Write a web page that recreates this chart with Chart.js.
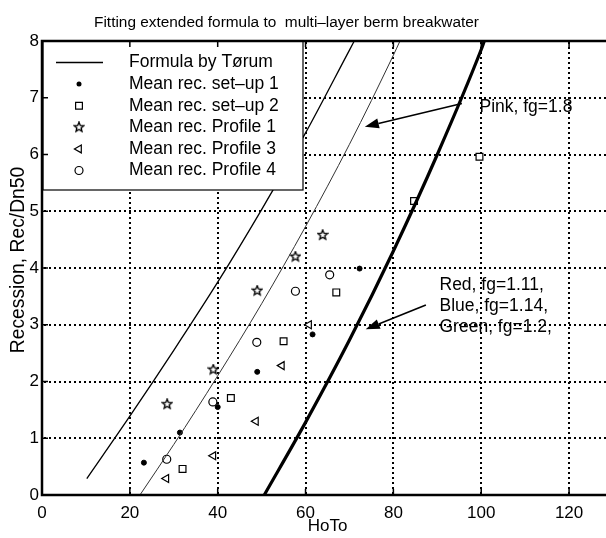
<!DOCTYPE html>
<html><head><meta charset="utf-8">
<script src="https://cdn.jsdelivr.net/npm/chart.js@4/dist/chart.umd.min.js"></script>
<style>
html,body{margin:0;padding:0;overflow:hidden;background:#fff;width:606px;height:538px}
canvas{display:block}
</style></head>
<body><canvas id="c" width="620" height="538"></canvas>
<script>
// ---------- data ----------
const xTickValues = [0, 20, 40, 60, 80, 100, 120];
const yTickValues = [0, 1, 2, 3, 4, 5, 6, 7, 8];

const torumX = [10.2, 20, 30, 40, 50, 60, 70, 71.1];
const torumY = [0.29, 1.39, 2.55, 3.75, 5.03, 6.38, 7.84, 8.0];

const pinkX = [22.3, 30, 40, 50, 60, 70, 80, 81.5];
const pinkY = [0, 0.89, 2.10, 3.37, 4.73, 6.18, 7.75, 8.0];

const rbgX = [50.6, 60, 70, 80, 90, 100, 100.7];
const rbgY = [0, 1.28, 2.73, 4.30, 6.0, 7.85, 8.0];

const setup1X = [23.2, 31.4, 40.0, 49.0, 61.6, 72.3];
const setup1Y = [0.57, 1.10, 1.55, 2.17, 2.83, 3.99];

const setup2X = [32.0, 43.0, 55.0, 67.0, 84.7, 99.6];
const setup2Y = [0.46, 1.71, 2.71, 3.57, 5.18, 5.96];

const profile1X = [28.5, 39.0, 49.0, 57.7, 63.9];
const profile1Y = [1.60, 2.21, 3.60, 4.20, 4.58];

const profile3X = [28.3, 39.0, 48.7, 54.6, 60.8];
const profile3Y = [0.29, 0.69, 1.30, 2.28, 3.00];

const profile4X = [28.4, 38.9, 48.9, 57.7, 65.5];
const profile4Y = [0.63, 1.64, 2.69, 3.59, 3.88];

const legendLabels = ['Formula by T\u00f8rum', 'Mean rec. set\u2013up 1', 'Mean rec. set\u2013up 2',
  'Mean rec. Profile 1', 'Mean rec. Profile 3', 'Mean rec. Profile 4'];
const titleText = 'Fitting extended formula to  multi\u2013layer berm breakwater';
const xTitle = 'HoTo';
const yTitle = 'Recession, Rec/Dn50';
const pinkNote = ['Pink, fg=1.8'];
const rbgNote = ['Red, fg=1.11,', 'Blue, fg=1.14,', 'Green, fg=1.2,'];

// annotation anchors (data coordinates)
const pinkArrow = {from: [95.6, 6.90], to: [73.5, 6.49], text: [99.6, 6.83]};
const rbgArrow = {from: [87.4, 3.35], to: [73.7, 2.92], text: [90.5, 3.70]};

// ---------- helpers ----------
const zip = (xs, ys) => xs.map((v, i) => ({x: v, y: ys[i]}));
const FONT = '"Liberation Sans", Arial, Helvetica, sans-serif';

function makeStar(size) {
  const c = document.createElement('canvas');
  c.width = c.height = size;
  const g = c.getContext('2d');
  const cx = size / 2, cy = size / 2, R = size / 2 - 1, r = R * 0.45;
  g.beginPath();
  for (let i = 0; i < 10; i++) {
    const a = -Math.PI / 2 + i * Math.PI / 5;
    const rr = i % 2 ? r : R;
    g.lineTo(cx + rr * Math.cos(a), cy + rr * Math.sin(a));
  }
  g.closePath();
  g.fillStyle = '#fff'; g.fill();
  g.lineWidth = 1.4; g.strokeStyle = '#000'; g.stroke();
  return c;
}
const starImg = makeStar(12);

function markerStyle(kind) {
  switch (kind) {
    case 'dot': return {pointStyle: 'circle', pointRadius: 2.5, pointBackgroundColor: '#000', pointBorderColor: '#000', pointBorderWidth: 1};
    case 'square': return {pointStyle: 'rect', pointRadius: 4.8, pointBackgroundColor: '#fff', pointBorderColor: '#000', pointBorderWidth: 1.2};
    case 'star': return {pointStyle: starImg, pointRadius: 6};
    case 'tri': return {pointStyle: 'triangle', pointRotation: -90, pointRadius: 4.6, pointBackgroundColor: '#fff', pointBorderColor: '#000', pointBorderWidth: 1.2};
    case 'circ': return {pointStyle: 'circle', pointRadius: 4, pointBackgroundColor: '#fff', pointBorderColor: '#000', pointBorderWidth: 1.2};
  }
}

function drawMarker(ctx, kind, px, py) {
  ctx.save();
  ctx.strokeStyle = '#000'; ctx.lineWidth = 1.2;
  if (kind === 'dot') {
    ctx.fillStyle = '#000'; ctx.beginPath(); ctx.arc(px, py, 2.5, 0, Math.PI * 2); ctx.fill();
  } else if (kind === 'square') {
    const s = 4.8 * Math.SQRT1_2;
    ctx.fillStyle = '#fff'; ctx.beginPath(); ctx.rect(px - s, py - s, 2 * s, 2 * s); ctx.fill(); ctx.stroke();
  } else if (kind === 'star') {
    ctx.drawImage(starImg, px - starImg.width / 2, py - starImg.height / 2);
  } else if (kind === 'tri') {
    const r = 4.6;
    ctx.fillStyle = '#fff'; ctx.beginPath();
    let a = -Math.PI / 2;
    for (let i = 0; i < 3; i++) { ctx.lineTo(px + Math.sin(a) * r, py - Math.cos(a) * r); a += 2 * Math.PI / 3; }
    ctx.closePath(); ctx.fill(); ctx.stroke();
  } else if (kind === 'circ') {
    ctx.fillStyle = '#fff'; ctx.beginPath(); ctx.arc(px, py, 4, 0, Math.PI * 2); ctx.fill(); ctx.stroke();
  }
  ctx.restore();
}

function drawArrow(ctx, x1, y1, x2, y2) {
  const ang = Math.atan2(y2 - y1, x2 - x1);
  const hl = 14, hw = 5;
  const bx = x2 - Math.cos(ang) * hl, by = y2 - Math.sin(ang) * hl;
  ctx.save();
  ctx.strokeStyle = '#000'; ctx.fillStyle = '#000'; ctx.lineWidth = 1.6;
  ctx.beginPath(); ctx.moveTo(x1, y1); ctx.lineTo(bx, by); ctx.stroke();
  ctx.beginPath();
  ctx.moveTo(x2, y2);
  ctx.lineTo(bx + Math.sin(ang) * hw, by - Math.cos(ang) * hw);
  ctx.lineTo(bx - Math.sin(ang) * hw, by + Math.cos(ang) * hw);
  ctx.closePath(); ctx.fill();
  ctx.restore();
}

const markerKinds = [null, 'dot', 'square', 'star', 'tri', 'circ'];

const deco = {
  id: 'deco',
  beforeDatasetsDraw(chart) {
    const {ctx, chartArea: a, scales: {x, y}} = chart;
    ctx.save();
    ctx.fillStyle = '#000';
    const step = 5, d = 2;
    xTickValues.forEach(v => {
      const px = Math.round(x.getPixelForValue(v));
      for (let py = a.bottom - 2; py > a.top; py -= step) ctx.fillRect(px - 1, Math.round(py) - 1, d, d);
    });
    yTickValues.forEach(v => {
      const py = Math.round(y.getPixelForValue(v));
      for (let px = a.left + 3; px < a.right + 10; px += step) ctx.fillRect(Math.round(px) - 1, py - 1, d, d);
    });
    ctx.restore();
  },
  afterDatasetsDraw(chart) {
    const {ctx, chartArea: a, scales: {x, y}} = chart;
    ctx.save();
    // annotations
    drawArrow(ctx, x.getPixelForValue(pinkArrow.from[0]), y.getPixelForValue(pinkArrow.from[1]),
      x.getPixelForValue(pinkArrow.to[0]), y.getPixelForValue(pinkArrow.to[1]));
    drawArrow(ctx, x.getPixelForValue(rbgArrow.from[0]), y.getPixelForValue(rbgArrow.from[1]),
      x.getPixelForValue(rbgArrow.to[0]), y.getPixelForValue(rbgArrow.to[1]));
    ctx.fillStyle = '#000';
    ctx.font = '17.5px ' + FONT;
    ctx.textAlign = 'left'; ctx.textBaseline = 'middle';
    pinkNote.forEach((t, i) => ctx.fillText(t, x.getPixelForValue(pinkArrow.text[0]), y.getPixelForValue(pinkArrow.text[1]) + i * 21));
    rbgNote.forEach((t, i) => ctx.fillText(t, x.getPixelForValue(rbgArrow.text[0]), y.getPixelForValue(rbgArrow.text[1]) + i * 21));

    // legend box
    const lx = a.left + 1, ly = a.top, lw = 260, lh = 149;
    ctx.fillStyle = '#fff'; ctx.fillRect(lx, ly, lw, lh);
    ctx.strokeStyle = '#000'; ctx.lineWidth = 1.2; ctx.strokeRect(lx, ly, lw, lh);
    legendLabels.forEach((lab, i) => {
      const cy = ly + 21.5 + i * 21.6;
      if (i === 0) {
        ctx.strokeStyle = '#000'; ctx.lineWidth = 1.3;
        ctx.beginPath(); ctx.moveTo(lx + 13, cy); ctx.lineTo(lx + 60, cy); ctx.stroke();
      } else {
        drawMarker(ctx, markerKinds[i], lx + 36, cy);
      }
      ctx.fillStyle = '#000'; ctx.font = '17.5px ' + FONT;
      ctx.textAlign = 'left'; ctx.textBaseline = 'middle';
      ctx.fillText(lab, lx + 86, cy);
    });

    // frame
    ctx.strokeStyle = '#000'; ctx.lineWidth = 2.5;
    ctx.beginPath();
    ctx.moveTo(a.right + 10, a.top); ctx.lineTo(a.left, a.top); ctx.lineTo(a.left, a.bottom); ctx.lineTo(a.right + 10, a.bottom);
    ctx.stroke();
    // inward ticks
    ctx.lineWidth = 1.5;
    ctx.beginPath();
    xTickValues.forEach(v => {
      const px = x.getPixelForValue(v);
      ctx.moveTo(px, a.bottom); ctx.lineTo(px, a.bottom - 6);
      ctx.moveTo(px, a.top); ctx.lineTo(px, a.top + 6);
    });
    yTickValues.forEach(v => {
      const py = y.getPixelForValue(v);
      ctx.moveTo(a.left, py); ctx.lineTo(a.left + 6, py);
    });
    ctx.stroke();

    // title
    ctx.fillStyle = '#000'; ctx.font = '15.4px ' + FONT;
    ctx.textAlign = 'center'; ctx.textBaseline = 'middle';
    ctx.fillText(titleText, 286.5, 22.5);

    // y axis title
    ctx.save();
    ctx.translate(18.5, 260);
    ctx.rotate(-Math.PI / 2);
    ctx.font = '19.3px ' + FONT;
    ctx.textAlign = 'center'; ctx.textBaseline = 'middle';
    ctx.fillText(yTitle, 0, 0);
    ctx.restore();
    ctx.restore();
  }
};

new Chart(document.getElementById('c'), {
  type: 'scatter',
  data: {
    datasets: [
      {label: legendLabels[0], data: zip(torumX, torumY), showLine: true, borderColor: '#000', borderWidth: 1.3, pointRadius: 0, cubicInterpolationMode: 'monotone'},
      {label: 'Pink, fg=1.8', data: zip(pinkX, pinkY), showLine: true, borderColor: '#333', borderWidth: 1, pointRadius: 0, cubicInterpolationMode: 'monotone'},
      {label: 'Red/Blue/Green', data: zip(rbgX, rbgY), showLine: true, borderColor: '#000', borderWidth: 3.2, pointRadius: 0, cubicInterpolationMode: 'monotone'},
      Object.assign({label: legendLabels[1], data: zip(setup1X, setup1Y)}, markerStyle('dot')),
      Object.assign({label: legendLabels[2], data: zip(setup2X, setup2Y)}, markerStyle('square')),
      Object.assign({label: legendLabels[3], data: zip(profile1X, profile1Y)}, markerStyle('star')),
      Object.assign({label: legendLabels[4], data: zip(profile3X, profile3Y)}, markerStyle('tri')),
      Object.assign({label: legendLabels[5], data: zip(profile4X, profile4Y)}, markerStyle('circ'))
    ]
  },
  options: {
    responsive: false,
    animation: false,
    events: [],
    layout: {padding: {top: 41, right: 6, left: 0, bottom: 0}},
    plugins: {legend: {display: false}, title: {display: false}, tooltip: {enabled: false}},
    scales: {
      x: {
        type: 'linear', min: 0, max: 130,
        afterBuildTicks: s => { s.ticks = xTickValues.map(v => ({value: v})); },
        afterFit: s => { s.height = 43; },
        grid: {display: false, drawTicks: false},
        border: {display: false},
        ticks: {color: '#000', font: {family: FONT, size: 17}, padding: 8, maxRotation: 0},
        title: {display: true, text: xTitle, color: '#000', font: {family: FONT, size: 17}, padding: {top: 0, bottom: 1}}
      },
      y: {
        type: 'linear', min: 0, max: 8,
        afterBuildTicks: s => { s.ticks = yTickValues.map(v => ({value: v})); },
        afterFit: s => { s.width = 42; },
        grid: {display: false, drawTicks: false},
        border: {display: false},
        ticks: {color: '#000', font: {family: FONT, size: 17}, padding: 3},
        title: {display: false}
      }
    }
  },
  plugins: [deco]
});
</script>
</body></html>
